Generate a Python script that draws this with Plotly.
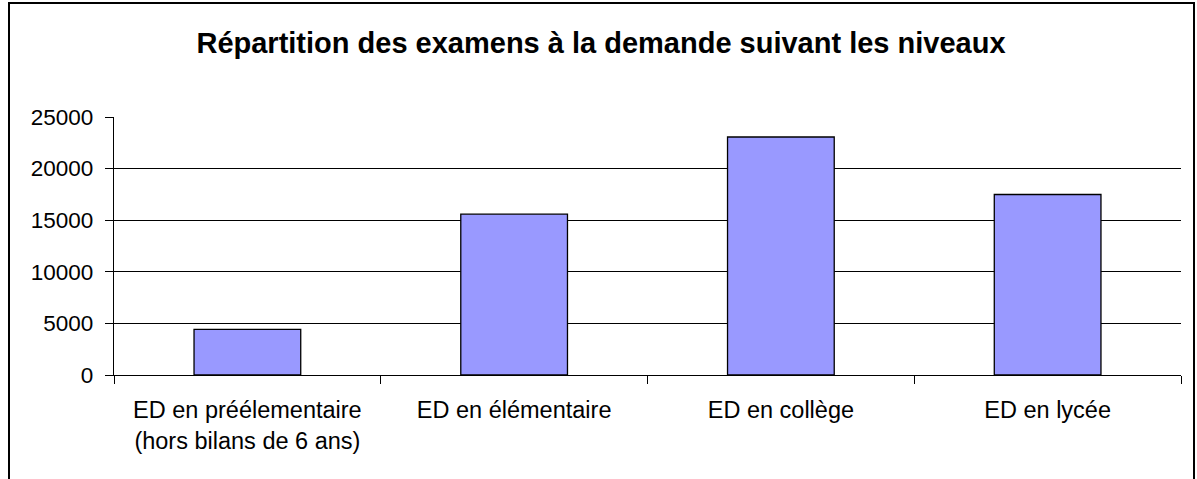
import plotly.graph_objects as go

categories = [
    "ED en préélementaire<br>(hors bilans de 6 ans)",
    "ED en élémentaire",
    "ED en collège",
    "ED en lycée",
]
values = [4420, 15580, 23060, 17490]
y_ticks = [0, 5000, 10000, 15000, 20000, 25000]
title_text = "Répartition des examens à la demande suivant les niveaux"

W, H = 1197, 479
L, R, T, B = 114, 16, 117, 104
pw, ph = W - L - R, H - T - B

def px_x(p):
    return (p - L) / pw

def px_y(p):
    return (H - B - p) / ph

FONT = "Liberation Sans, Arial, sans-serif"

fig = go.Figure()
fig.add_trace(go.Bar(
    x=categories,
    y=values,
    marker=dict(color="#9999FF", line=dict(color="#000000", width=1.3)),
    hoverinfo="x+y",
))

fig.update_layout(
    width=W, height=H,
    margin=dict(l=L, r=R, t=T, b=B, pad=0),
    paper_bgcolor="white",
    plot_bgcolor="white",
    bargap=0.6,
    showlegend=False,
    font=dict(family=FONT, size=22, color="black"),
    title=dict(
        text="<b>" + title_text + "</b>",
        x=601 / W, xref="container", xanchor="center",
        y=1 - 43 / H, yref="container", yanchor="middle",
        font=dict(family=FONT, size=29, color="black"),
    ),
    xaxis=dict(
        type="category",
        showline=True, linecolor="black", linewidth=1.3,
        ticks="outside", ticklen=8, tickwidth=1.3, tickcolor="black",
        tickson="boundaries",
        showgrid=False,
        ticklabelstandoff=14,
        tickfont=dict(family=FONT, size=23.5, color="black"),
    ),
    yaxis=dict(
        range=[0, 25000],
        tickvals=y_ticks,
        ticktext=[str(v) for v in y_ticks],
        showline=True, linecolor="black", linewidth=1.3,
        ticks="outside", ticklen=8, tickwidth=1.3, tickcolor="black",
        showgrid=True, gridcolor="black", gridwidth=1.3,
        zeroline=False,
        ticklabelstandoff=7,
        tickfont=dict(family=FONT, size=22.5, color="black"),
    ),
    shapes=[
        dict(
            type="rect", xref="paper", yref="paper", layer="above",
            x0=px_x(9), x1=px_x(1194), y0=px_y(490), y1=px_y(3),
            line=dict(color="black", width=2), fillcolor="rgba(0,0,0,0)",
        )
    ],
)

fig.write_html(
    "out.html",
    config={"displayModeBar": False},
    post_script="document.body.style.margin='0';document.body.style.padding='0';",
)
